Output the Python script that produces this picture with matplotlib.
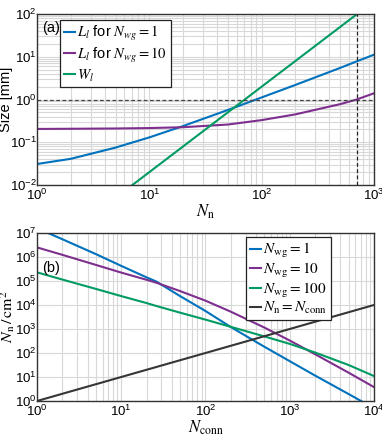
import numpy as np
import matplotlib
matplotlib.use("Agg")
import matplotlib.pyplot as plt

plt.rcParams["font.family"] = ["Liberation Sans", "DejaVu Sans"]
plt.rcParams["mathtext.fontset"] = "stix"
plt.rcParams["font.size"] = 10
plt.rcParams["axes.unicode_minus"] = False

# panel (a): sizes in mm vs number of neurons
n_a = [1, 2, 5, 10, 20, 50, 100, 200, 500, 700, 1000]
len_wg1 = [0.031, 0.041, 0.075, 0.13, 0.24, 0.57, 1.12, 2.2, 5.5, 7.8, 11.2]
len_wg10 = [0.205, 0.207, 0.21, 0.215, 0.225, 0.26, 0.33, 0.45, 0.78, 1.0, 1.4]
n_w = [5, 10, 20, 50, 100, 200, 500, 1000]
width_l = [0.005, 0.02, 0.08, 0.5, 2.0, 8.0, 50.0, 200.0]
size_limit = 1.0
n_limit = 700

# panel (b): neuron density vs connections per neuron (log10 values)
n_conn = [1, 2, 5, 10, 20, 26, 50, 100, 200, 500, 1000, 2000, 5000, 10000]
log_dens_wg1 = [7.2, 6.74, 6.12, 5.63, 5.15, 4.98, 4.37, 3.75, 3.08, 2.26, 1.66, 1.06, 0.29, -0.3]
log_dens_wg10 = [6.40, 6.09, 5.67, 5.35, 5.05, 4.93, 4.58, 4.18, 3.72, 3.06, 2.52, 1.95, 1.18, 0.58]
log_dens_wg100 = [5.36, 5.06, 4.67, 4.37, 4.08, 3.96, 3.68, 3.39, 3.09, 2.69, 2.38, 2.02, 1.50, 1.04]

c_blue = "#0072BD"
c_purple = "#7E2F8E"
c_green = "#009B62"
c_black = "#363636"


def decade_label(v, pos):
    return r"$\mathdefault{10^{%d}}$" % round(np.log10(v))


def style_axes(ax):
    ax.set_xscale("log")
    ax.set_yscale("log")
    ax.grid(True, which="both", color="#d8d8d8", lw=0.8)
    ax.set_axisbelow(True)
    ax.tick_params(which="both", length=0, labelsize=9.5)
    ax.tick_params(axis="y", pad=0)
    ax.tick_params(axis="x", pad=2)
    ax.xaxis.set_major_formatter(plt.FuncFormatter(decade_label))
    ax.yaxis.set_major_formatter(plt.FuncFormatter(decade_label))
    for sp in ax.spines.values():
        sp.set_color("#333333")
        sp.set_linewidth(1.0)


fig = plt.figure(figsize=(3.82, 4.36), dpi=100)
ax1 = fig.add_axes([0.0969, 0.5757, 0.882, 0.392])
ax2 = fig.add_axes([0.0969, 0.0803, 0.882, 0.3853])

# (a)
style_axes(ax1)
ax1.plot(n_a, len_wg1, color=c_blue, lw=1.5, label=r"$L_l$ for $N_{wg} = 1$")
ax1.plot(n_a, len_wg10, color=c_purple, lw=1.5, label=r"$L_l$ for $N_{wg} = 10$")
ax1.plot(n_w, width_l, color=c_green, lw=1.5, label=r"$W_l$")
ax1.axhline(size_limit, color="#444444", ls=(0, (3, 2)), lw=0.9)
ax1.axvline(n_limit, color="#222222", ls=(0, (3, 2)), lw=0.9)
ax1.set_xlim(1, 1000)
ax1.set_ylim(0.01, 100)
ax1.set_xticks([1, 10, 100, 1000])
ax1.set_yticks([10.0 ** k for k in range(-2, 3)])
ax1.set_xlabel(r"$N_{\rm n}$", fontsize=12, labelpad=0)
ax1.set_ylabel("Size [mm]", fontsize=10.5)
ax1.yaxis.set_label_coords(-0.07, 0.5)
ax1.text(0.015, 0.92, "(a)", transform=ax1.transAxes, ha="left", va="center", fontsize=10.5)
leg1 = ax1.legend(loc="upper left", bbox_to_anchor=(0.068, 0.965), fancybox=False,
                  edgecolor="#222222", framealpha=1, handlelength=0.75, fontsize=10.5,
                  handletextpad=0.2, borderpad=0.25, labelspacing=0.2, borderaxespad=0)
leg1.get_frame().set_linewidth(0.9)

# (b)
style_axes(ax2)
ax2.plot(n_conn, 10 ** np.array(log_dens_wg1), color=c_blue, lw=1.5, label=r"$N_{\rm wg} = 1$")
ax2.plot(n_conn, 10 ** np.array(log_dens_wg10), color=c_purple, lw=1.5, label=r"$N_{\rm wg} = 10$")
ax2.plot(n_conn, 10 ** np.array(log_dens_wg100), color=c_green, lw=1.5, label=r"$N_{\rm wg} = 100$")
ax2.plot(n_conn, n_conn, color=c_black, lw=1.5, label=r"$N_{\rm n} = N_{\rm conn}$")
ax2.set_xlim(1, 1e4)
ax2.set_ylim(1, 1e7)
ax2.set_xticks([1, 10, 100, 1000, 10000])
ax2.set_yticks([10.0 ** k for k in range(8)])
ax2.set_xlabel(r"$N_{\rm conn}$", fontsize=12, labelpad=0)
ax2.set_ylabel(r"$N_{\rm n}\,/\,{\rm cm}^2$", fontsize=11.5)
ax2.yaxis.set_label_coords(-0.058, 0.5)
ax2.text(0.015, 0.79, "(b)", transform=ax2.transAxes, ha="left", va="center", fontsize=10.5)
leg2 = ax2.legend(loc="upper left", bbox_to_anchor=(0.62, 0.975), fancybox=False,
                  edgecolor="#222222", framealpha=1, handlelength=0.75, fontsize=11,
                  handletextpad=0.1, borderpad=0.25, labelspacing=0.05, borderaxespad=0)
leg2.get_frame().set_linewidth(0.9)

fig.savefig("out.png", dpi=100)
